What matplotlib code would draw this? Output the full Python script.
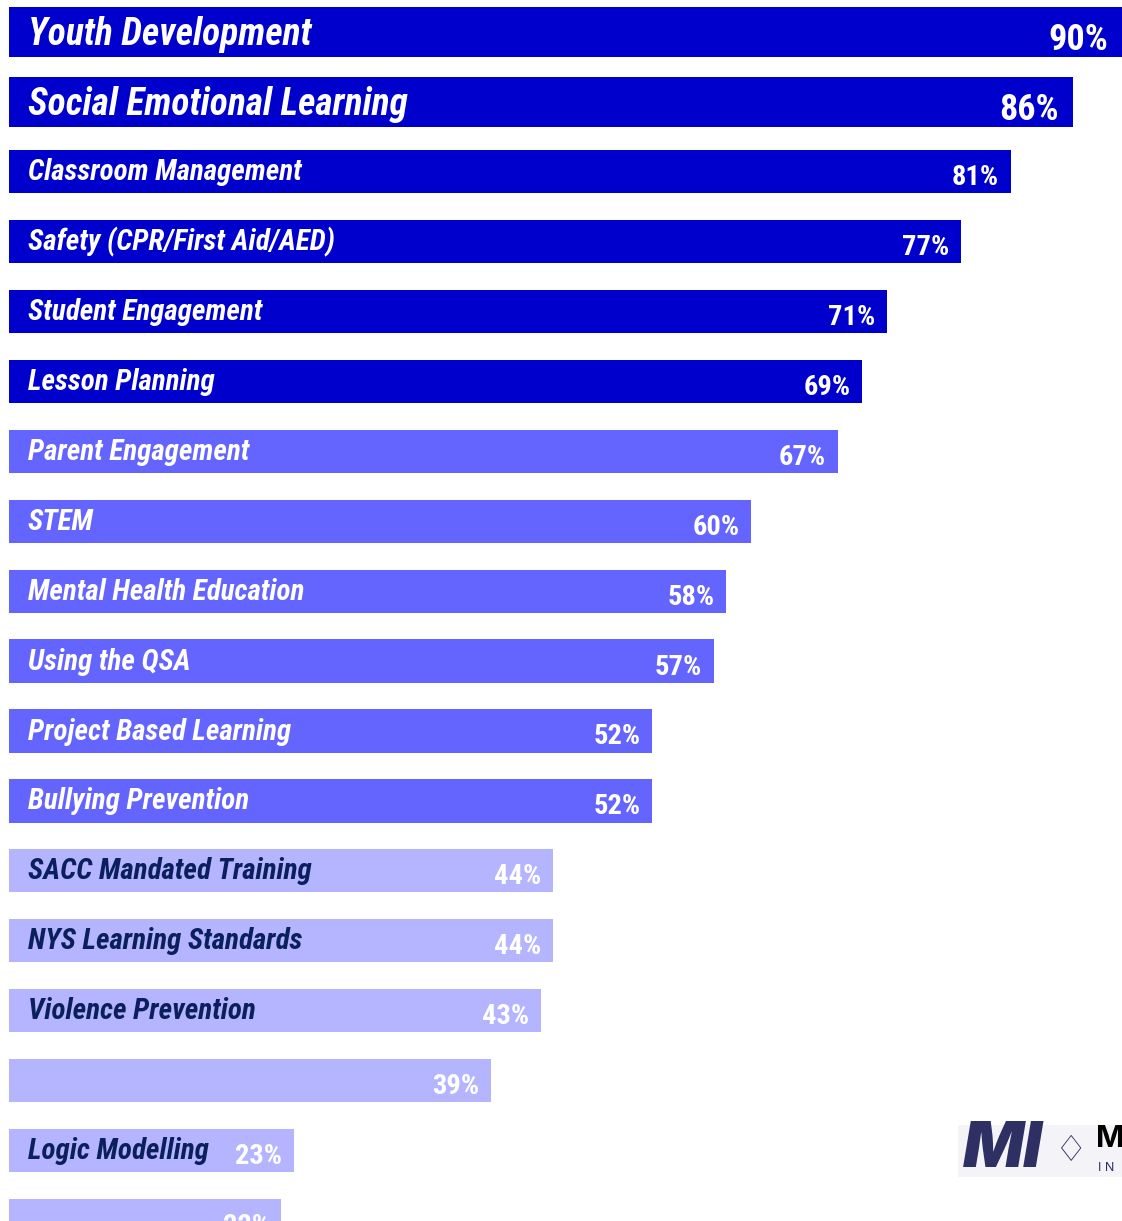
import matplotlib.pyplot as plt
from matplotlib.patches import Rectangle

# dados
temas = [
    "Youth Development", "Social Emotional Learning", "Classroom Management",
    "Safety (CPR/First Aid/AED)", "Student Engagement", "Lesson Planning",
    "Parent Engagement", "STEM", "Mental Health Education", "Using the QSA",
    "Project Based Learning", "Bullying Prevention", "SACC Mandated Training",
    "NYS Learning Standards", "Violence Prevention", "", "Logic Modelling", "",
]
percentuais = [90, 86, 81, 77, 71, 69, 67, 60, 58, 57, 52, 52, 44, 44, 43, 39, 23, 22]
# 0 = azul escuro, 1 = azul médio, 2 = azul claro
grupo = [0, 0, 0, 0, 0, 0, 1, 1, 1, 1, 1, 1, 2, 2, 2, 2, 2, 2]

COR_BARRA = ["#0000CC", "#6464FF", "#B4B4FF"]
COR_TEXTO = ["white", "white", "#0A1F5C"]
FONTE = ["Roboto Condensed", "IBM Plex Sans Condensed", "DejaVu Sans"]

fig = plt.figure(figsize=(11.22, 12.21), dpi=100)
ax = fig.add_axes([0, 0, 1, 1])

for i, (tema, valor, g) in enumerate(zip(temas, percentuais, grupo)):
    destaque = i < 2
    altura = 0.72 if destaque else 0.62
    ax.barh(i, valor, height=altura, left=0.15, color=COR_BARRA[g], edgecolor="none")
    if tema:
        ax.text(1.65, i + (0.186 if destaque else 0.122), tema, color=COR_TEXTO[g],
                fontsize=(27 if destaque else 21), fontweight="bold", fontstyle="italic",
                family=FONTE, ha="left", va="baseline")
    ax.text(valor - (0.95 if destaque else 0.8), i + (0.257 if destaque else 0.193),
            f"{valor}%", color="white", fontsize=(26 if destaque else 20.5),
            fontweight="bold", family=FONTE, ha="right", va="baseline")

ax.set_xlim(-0.6, 90.15)
ax.set_ylim(17.01, -0.458)
ax.axis("off")

# logo no canto inferior direito (aproximação)
logo = Rectangle((0.854, 0.036), 0.15, 0.043, transform=fig.transFigure,
                 facecolor="#F4F4F8", edgecolor="none")
fig.patches.append(logo)
fig.text(0.858, 0.0575, "MI", color="#2E2F63", fontsize=46, fontweight="black",
         fontstyle="italic", family=["Inter", "DejaVu Sans"], ha="left", va="center")
fig.text(0.940, 0.0575, "\u2662", color="#2E2F63", fontsize=26,
         family=["DejaVu Sans"], ha="left", va="center")
fig.text(0.977, 0.067, "M", color="black", fontsize=22, fontweight="bold",
         family=["Inter", "DejaVu Sans"], ha="left", va="center")
fig.text(0.979, 0.043, "I N", color="#2E2F63", fontsize=9,
         family=["Inter", "DejaVu Sans"], ha="left", va="center")

fig.savefig("out.png", dpi=100)
